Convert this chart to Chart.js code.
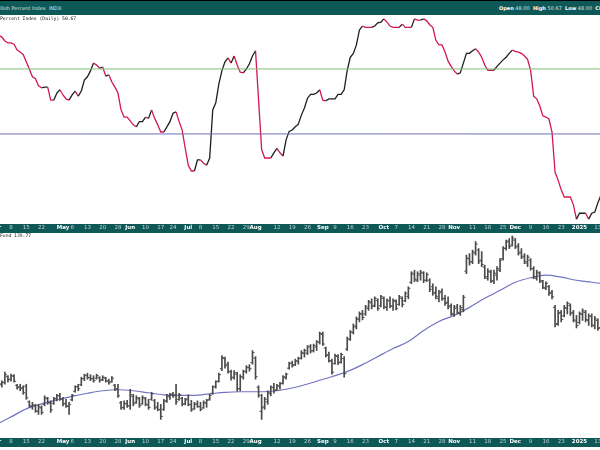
<!DOCTYPE html>
<html>
<head>
<meta charset="utf-8">
<script src="https://cdn.jsdelivr.net/npm/chart.js@4"></script>
<style>
  body { margin: 0; width: 600px; height: 450px; overflow: hidden; background: #fff; position: relative; font-family: "DejaVu Sans", sans-serif; }
  #head { position: absolute; left: 0; top: 0; width: 600px; height: 14px; background: #0f5858; border-top: 1px solid #000; }
  #head span { position: absolute; top: 4px; font-size: 5px; white-space: nowrap; color: #d8e6e6; }
  #head b { color: #fff; }
  .lbl { position: absolute; left: 0; font-family: "DejaVu Sans Mono", monospace; font-size: 4.7px; color: #222; z-index: 2; white-space: nowrap; }
  canvas { position: absolute; left: 0; }
</style>
</head>
<body>
<div id="head">
  <span style="left:-6.6px">Bullish Percent Index &nbsp;INDX</span>
  <span style="left:499px"><b>Open</b> 48.00 &nbsp;<b>High</b> 50.67 &nbsp;<b>Low</b> 48.00 &nbsp;<b>Close</b> 50.67</span>
</div>
<div class="lbl" style="top:16px">Percent Index (Daily) 50.67</div>
<div class="lbl" style="top:233px">Fund 139.77</div>
<canvas id="bpi" width="600" height="218" style="top:15px"></canvas>
<canvas id="fund" width="600" height="214" style="top:233px"></canvas>
<script>
// trading-day index: 0 = Apr 8 2024; series start at day -4 (Apr 2 2024)
const firstDay = -4;
const viewMin = -3.6, viewMax = 192.7;

const tickDays = [-5, 0, 5, 10, 17, 20, 25, 30, 35, 39, 44, 49, 53, 58, 62, 67, 72, 77, 80, 87, 92, 97,
  102, 106, 111, 116, 122, 126, 131, 136, 141, 145, 151, 156, 161, 165, 170, 175, 180, 186, 192];
const tickLabels = ['Apr', '8', '15', '22', 'May', '6', '13', '20', '28', 'Jun', '10', '17', '24', 'Jul', '8', '15', '22', '29',
  'Aug', '12', '19', '26', 'Sep', '9', '16', '23', 'Oct', '7', '14', '21', '28', 'Nov', '11', '18', '25', 'Dec', '9', '16', '23', '2025', '13'];
const monthLabels = ['Apr', 'May', 'Jun', 'Jul', 'Aug', 'Sep', 'Oct', 'Nov', 'Dec', '2025'];

const levels = [70, 50];
const levelColors = ['#7fbf74', '#6f70b8'];

const bpi = [80.4, 79.8, 78.6, 78.0,
  78.0, 77.6, 75.8, 75.2, 74.4, 72.2, 70.0, 67.6, 67.0, 64.8,
  64.2, 64.4, 64.4, 60.4, 60.4, 62.6, 63.6, 62.0, 60.8, 60.4,
  62.0, 63.2, 61.6, 63.2, 66.6, 67.6, 69.4, 71.8, 71.2, 70.2,
  70.6, 67.8, 68.2, 66.0, 64.4, 62.6, 57.4, 55.2, 55.2, 54.0,
  52.8, 52.2, 53.8, 53.8, 55.2, 54.8, 57.4, 54.8, 52.8, 50.6,
  50.6, 52.2, 53.8, 56.4, 56.8, 53.8, 51.2, 45.6, 40.4, 38.6,
  38.6, 42.0, 42.0, 41.0, 40.4, 42.6, 57.4, 59.6, 65.4, 69.4,
  72.2, 73.4, 71.8, 74.0, 71.2, 69.0, 68.8, 70.0, 71.6, 74.0,
  75.6, 60.4, 45.2, 42.6, 42.6, 42.6, 44.2, 45.6, 44.2, 43.2,
  48.2, 50.8, 51.2, 52.2, 53.0, 55.8, 58.0, 61.0, 62.2, 62.2,
  62.6, 63.6, 60.4, 60.2, 60.8, 60.8, 60.8, 62.2, 62.2, 63.6,
  69.6, 73.6, 74.8, 77.4, 82.0, 83.2, 82.8, 82.8, 82.8, 83.2,
  84.2, 84.4, 85.4, 84.4, 83.2, 82.8, 82.8, 82.8, 83.8, 82.8,
  82.8, 82.8, 85.4, 85.0, 85.0, 85.4, 84.8, 83.6, 82.8, 78.8,
  77.4, 77.4, 75.2, 72.4, 70.8, 69.4, 68.4, 68.8, 71.8, 74.8,
  74.8, 75.6, 76.2, 75.2, 73.6, 71.2, 69.6, 69.6, 69.6, 70.8,
  71.8, 72.8, 73.6, 74.8, 75.8, 75.4, 75.2, 74.8, 74.0, 73.0,
  69.6, 61.6, 60.8, 58.6, 55.6, 55.2, 54.6, 50.6, 38.2, 35.8,
  32.8, 30.6, 30.6, 30.6, 28.2, 23.8, 25.6, 25.6, 25.6, 23.8,
  25.6, 26.0, 28.8, 31.2];

const highs = [120.9, 120.6, 122.3, 121.6,
  121.9, 121.8, 119.9, 119.9, 119.6, 119.9, 116.6, 116.3, 115.9, 115.9,
  115.6, 117.6, 117.3, 116.6, 117.3, 117.9, 118.1, 117.3, 116.9, 116.3,
  117.9, 119.6, 119.9, 121.3, 121.9, 122.1, 121.8, 121.6, 121.9, 121.4,
  121.6, 121.3, 120.9, 121.4, 119.9, 119.9, 116.5, 116.6, 116.7, 118.9,
  117.9, 117.6, 117.3, 117.6, 117.3, 116.9, 118.3, 116.9, 116.3, 115.9,
  116.9, 117.9, 118.1, 118.3, 119.9, 118.1, 117.3, 117.1, 117.8, 116.7,
  116.3, 116.6, 116.3, 116.6, 116.9, 117.9, 119.6, 120.6, 122.1, 125.6,
  125.3, 124.3, 122.7, 122.6, 122.3, 121.8, 122.7, 123.6, 123.8, 126.6,
  125.4, 119.6, 117.9, 117.3, 118.6, 119.6, 120.1, 119.9, 120.3, 121.6,
  122.1, 124.3, 124.5, 124.9, 125.3, 126.6, 126.9, 127.6, 127.8, 127.9,
  128.6, 130.3, 130.3, 127.3, 126.3, 124.9, 125.9, 125.8, 126.1, 125.4,
  129.3, 130.6, 131.9, 133.3, 134.3, 134.6, 135.6, 136.6, 136.9, 137.3,
  136.9, 137.6, 137.3, 136.9, 137.3, 136.9, 136.7, 137.6, 137.3, 138.3,
  139.3, 142.3, 142.6, 142.3, 142.6, 142.3, 142.1, 140.9, 139.9, 139.3,
  138.6, 138.9, 137.6, 137.3, 135.9, 135.6, 135.8, 135.6, 137.6, 145.6,
  145.9, 146.6, 148.3, 146.9, 146.3, 143.6, 142.9, 142.6, 142.6, 143.3,
  144.9, 147.3, 148.6, 148.9, 149.4, 148.9, 147.9, 146.9, 145.9, 145.6,
  144.9, 143.3, 142.6, 142.3, 140.6, 140.3, 139.6, 138.6, 135.6, 134.6,
  134.6, 135.6, 136.3, 135.9, 134.6, 133.6, 134.3, 134.9, 134.6, 133.9,
  133.9, 133.4, 132.9, 133.3];

const lows = [119.6, 119.3, 119.9, 120.3,
  120.5, 120.3, 118.9, 118.6, 117.9, 116.9, 115.3, 114.9, 114.3, 113.9,
  113.9, 115.6, 115.9, 114.3, 115.9, 116.6, 116.7, 115.6, 115.3, 113.9,
  116.6, 118.3, 118.6, 119.6, 120.6, 120.9, 120.6, 120.3, 120.9, 120.3,
  120.6, 120.3, 119.9, 120.3, 118.6, 117.3, 114.9, 114.9, 115.3, 114.9,
  115.6, 116.1, 115.3, 115.9, 115.6, 114.9, 116.7, 114.9, 114.6, 112.9,
  114.7, 116.3, 116.9, 117.3, 115.9, 116.7, 115.6, 115.8, 115.6, 114.5,
  114.9, 115.3, 114.6, 115.1, 115.3, 116.7, 117.9, 119.1, 120.3, 122.6,
  123.1, 122.1, 120.7, 120.9, 118.5, 118.6, 120.9, 122.1, 122.5, 123.9,
  120.9, 117.3, 112.9, 114.9, 115.9, 117.6, 118.1, 118.6, 118.9, 119.9,
  120.9, 122.9, 123.3, 123.6, 123.9, 124.9, 125.3, 125.8, 126.1, 126.3,
  126.6, 127.9, 127.6, 125.3, 124.3, 121.9, 123.9, 123.8, 124.1, 121.3,
  126.6, 128.6, 129.9, 130.9, 132.3, 132.7, 133.6, 134.6, 134.9, 135.3,
  134.6, 135.3, 134.9, 134.6, 135.1, 134.6, 134.7, 135.6, 135.3, 136.3,
  136.9, 139.9, 140.3, 140.3, 140.6, 140.1, 140.3, 138.3, 137.6, 136.9,
  136.3, 136.6, 135.6, 134.9, 133.6, 133.4, 133.9, 133.6, 134.3, 141.9,
  143.6, 143.9, 145.6, 143.9, 143.3, 140.9, 140.6, 140.1, 139.9, 140.6,
  142.3, 144.6, 146.6, 146.9, 147.4, 146.9, 145.6, 144.9, 143.9, 143.3,
  142.6, 140.9, 140.6, 140.1, 138.9, 138.7, 137.6, 136.9, 131.3, 131.6,
  132.3, 133.3, 133.9, 133.6, 132.3, 131.1, 131.9, 132.6, 132.3, 131.6,
  131.3, 130.9, 130.6, 130.9];

const opens = [120.4, 119.8, 120.2, 121.4,
  120.9, 121.5, 119.7, 119.4, 119.2, 119.5, 116.4, 115.5, 115.6, 114.5,
  115.2, 115.9, 117.0, 116.2, 116.1, 117.1, 117.6, 116.9, 116.1, 115.5,
  116.8, 118.5, 119.4, 119.8, 121.0, 121.6, 121.2, 121.0, 121.1, 121.2,
  120.8, 121.1, 120.5, 120.4, 119.7, 119.0, 116.2, 115.3, 116.0, 115.6,
  117.5, 116.3, 117.0, 116.0, 117.0, 115.8, 116.9, 116.6, 115.4, 114.8,
  114.9, 116.5, 117.4, 117.9, 117.8, 116.9, 117.1, 116.0, 117.0, 115.8,
  115.0, 116.0, 115.4, 115.2, 116.1, 116.9, 118.1, 119.4, 120.5, 123.0,
  125.0, 123.9, 122.4, 121.3, 121.9, 119.0, 121.3, 122.4, 123.2, 124.2,
  125.1, 119.3, 114.5, 115.4, 116.4, 118.0, 119.2, 118.8, 119.5, 120.1,
  121.2, 123.1, 124.1, 123.8, 124.4, 125.1, 126.0, 126.1, 127.5, 126.6,
  127.3, 128.3, 129.8, 127.1, 125.8, 124.5, 124.0, 125.4, 124.3, 125.0,
  126.9, 128.9, 130.2, 131.3, 132.8, 133.8, 133.9, 135.0, 136.1, 135.6,
  136.6, 135.5, 137.0, 135.2, 136.6, 135.4, 136.4, 135.8, 137.0, 136.5,
  137.4, 140.2, 141.8, 140.6, 141.6, 142.0, 140.6, 140.6, 139.3, 138.2,
  137.0, 138.4, 137.0, 136.2, 135.5, 133.8, 135.3, 134.0, 134.8, 142.4,
  144.9, 144.3, 146.0, 146.6, 144.6, 143.2, 141.0, 142.2, 140.4, 141.6,
  142.6, 144.9, 146.9, 148.4, 147.6, 148.6, 147.4, 146.2, 145.4, 144.0,
  144.6, 142.9, 141.0, 142.0, 140.3, 139.0, 139.3, 138.2, 135.2, 132.0,
  134.2, 133.5, 135.0, 135.6, 134.2, 132.5, 132.2, 133.8, 134.2, 132.6,
  133.4, 131.5, 132.6, 131.2];

const closes = [120.0, 120.3, 121.8, 120.8,
  121.6, 120.5, 119.2, 119.0, 118.2, 117.2, 115.6, 115.8, 114.6, 115.4,
  114.3, 117.2, 116.2, 114.8, 117.0, 117.6, 117.0, 116.0, 115.6, 115.9,
  117.7, 119.4, 119.0, 121.0, 121.7, 121.2, 121.0, 120.6, 121.6, 120.7,
  121.3, 120.6, 120.2, 121.1, 118.9, 117.6, 115.2, 116.1, 115.6, 117.8,
  116.0, 117.2, 115.7, 117.3, 115.9, 115.3, 118.0, 115.2, 114.9, 113.5,
  116.6, 117.6, 117.9, 117.6, 116.4, 117.8, 115.9, 116.8, 115.9, 114.8,
  115.9, 115.5, 114.9, 116.3, 116.7, 117.7, 119.4, 120.4, 121.8, 125.2,
  123.6, 122.4, 121.2, 122.2, 119.0, 121.4, 122.5, 123.3, 123.0, 126.2,
  121.4, 117.7, 115.2, 116.9, 118.2, 119.3, 118.6, 119.6, 120.0, 121.4,
  121.9, 124.0, 123.6, 124.6, 125.0, 126.2, 126.6, 127.3, 126.5, 127.6,
  128.3, 130.0, 127.9, 125.6, 124.6, 122.3, 125.6, 124.2, 125.8, 122.0,
  128.9, 130.3, 131.5, 133.0, 134.0, 133.2, 135.3, 136.3, 135.4, 137.0,
  135.0, 137.3, 135.3, 136.5, 135.5, 136.6, 135.0, 137.3, 135.8, 138.0,
  139.0, 142.0, 140.8, 141.9, 142.2, 140.6, 141.7, 138.8, 138.0, 137.4,
  138.1, 136.9, 136.0, 135.3, 134.0, 135.0, 134.2, 135.2, 137.2, 145.0,
  144.2, 146.2, 147.8, 144.4, 143.7, 141.3, 142.4, 140.5, 142.0, 142.9,
  144.6, 147.0, 148.2, 147.3, 149.0, 147.2, 146.0, 145.2, 144.3, 145.2,
  142.9, 141.3, 142.2, 140.5, 139.2, 140.0, 138.0, 137.3, 131.8, 134.0,
  132.8, 135.2, 136.0, 134.0, 132.7, 131.6, 134.0, 134.5, 132.8, 133.5,
  131.7, 132.9, 131.0, 132.8];

// moving average, read every 5 trading days
const maDays = [-5, 0, 5, 10, 15, 20, 25, 30, 35, 40, 45, 50, 55, 60, 65, 70, 75, 80, 85, 90, 95,
  100, 105, 110, 115, 120, 125, 130, 135, 140, 145, 150, 155, 160, 165, 170, 175, 180, 185, 190, 195];
const maValues = [111.8, 113.4, 115.0, 116.0, 116.8, 117.5, 118.1, 118.6, 118.8, 118.6, 118.2, 117.8, 117.7, 117.7,
  118.0, 118.3, 118.4, 118.4, 118.5, 118.9, 119.6, 120.5, 121.4, 122.4, 123.8, 125.4, 127.0, 128.4,
  130.6, 132.4, 133.6, 135.2, 137.0, 138.6, 140.2, 141.1, 141.6, 141.2, 140.6, 140.2, 139.8];

const teal = '#0f5858';
const red = '#d2184c';
const black = '#1e1e1e';
const barColor = '#4a4a4a';

const days = bpi.map((v, k) => firstDay + k);

const bandPlugin = {
  id: 'band',
  beforeDraw(chart) {
    const s = chart.scales.x, c = chart.ctx;
    c.save();
    c.fillStyle = teal;
    c.fillRect(0, s.top, chart.width, s.bottom - s.top);
    c.restore();
  }
};

function dayAxis() {
  const isMonth = i => monthLabels.includes(tickLabels[i]);
  return {
    type: 'linear', min: viewMin, max: viewMax, offset: false,
    grid: { display: false, drawTicks: false }, border: { display: false },
    afterBuildTicks: s => { s.ticks = tickDays.map(v => ({ value: v })); },
    afterFit: s => { s.height = 9; s.paddingLeft = 0; s.paddingRight = 0; },
    ticks: {
      autoSkip: false, maxRotation: 0, minRotation: 0, padding: 0,
      callback: (v, i) => tickLabels[i],
      color: c => isMonth(c.index) ? '#ffffff' : '#c2d4d4',
      font: c => ({ family: 'DejaVu Sans', size: 5.5, weight: isMonth(c.index) ? 'bold' : 'normal' })
    }
  };
}

const common = {
  responsive: false, animation: false, events: [],
  layout: { padding: 0, autoPadding: false },
  plugins: { legend: { display: false }, tooltip: { enabled: false } }
};

new Chart(document.getElementById('bpi'), {
  type: 'line',
  data: {
    datasets: [
      ...levels.map((lv, k) => ({
        data: [{ x: viewMin - 1, y: lv }, { x: viewMax + 1, y: lv }],
        borderColor: levelColors[k], borderWidth: 1, pointRadius: 0
      })),
      {
        data: days.map((d, k) => ({ x: d, y: bpi[k] })),
        borderWidth: 1.3, pointRadius: 0, borderColor: black,
        segment: {
          borderColor: ctx => {
            for (let k = ctx.p0DataIndex; k >= 0; k--) {
              const dv = bpi[k + 1] - bpi[k];
              if (dv > 0) return black;
              if (dv < 0) return red;
            }
            return red;
          }
        }
      }
    ]
  },
  options: {
    ...common,
    scales: {
      x: dayAxis(),
      y: { display: false, min: 22.3, max: 86.6 }
    }
  },
  plugins: [bandPlugin]
});

new Chart(document.getElementById('fund'), {
  type: 'line',
  data: {
    datasets: [
      {
        type: 'bar',
        data: days.map((d, k) => ({ x: d, y: [lows[k], highs[k]] })),
        backgroundColor: barColor, borderWidth: 0, barThickness: 1, grouped: false
      },
      {
        type: 'scatter',
        data: days.map((d, k) => ({ x: d - 0.35, y: opens[k] })),
        pointStyle: 'line', radius: 1, borderColor: barColor, borderWidth: 1
      },
      {
        type: 'scatter',
        data: days.map((d, k) => ({ x: d + 0.35, y: closes[k] })),
        pointStyle: 'line', radius: 1, borderColor: barColor, borderWidth: 1
      },
      {
        type: 'line',
        data: maDays.map((d, k) => ({ x: d, y: maValues[k] })),
        borderColor: '#7373c2', borderWidth: 1.2, pointRadius: 0,
        cubicInterpolationMode: 'monotone'
      }
    ]
  },
  options: {
    ...common,
    scales: {
      x: dayAxis(),
      y: { display: false, min: 109.2, max: 150 }
    }
  },
  plugins: [bandPlugin]
});
</script>
</body>
</html>
